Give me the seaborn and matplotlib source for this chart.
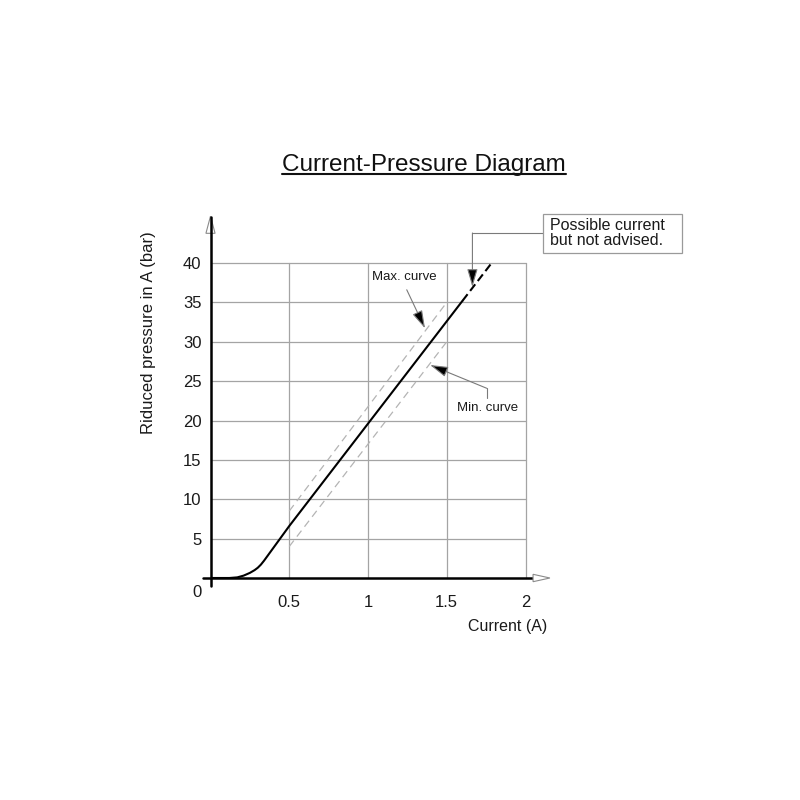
import matplotlib
matplotlib.use("Agg")
import matplotlib.pyplot as plt
from matplotlib.patches import Polygon, Rectangle
from matplotlib.lines import Line2D
import seaborn as sns

# Nominal characteristic (solid part, recommended range)
current_a = [0.0, 0.12, 0.17, 0.21, 0.25, 0.28, 0.30, 0.32, 0.34, 0.36, 0.38, 0.5, 1.0, 1.6]
pressure_bar = [0.0, 0.0, 0.08, 0.3, 0.65, 1.0, 1.3, 1.7, 2.2, 2.75, 3.3, 6.6, 19.6, 35.2]

# Extension: possible but not advised
current_ext = [1.6, 1.785]
pressure_ext = [35.2, 40.0]

# Tolerance band
max_current = [0.5, 1.5]
max_pressure = [8.5, 35.0]
min_current = [0.5, 1.5]
min_pressure = [4.0, 30.0]

x_ticks = [0.5, 1.0, 1.5, 2.0]
x_tick_labels = ["0.5", "1", "1.5", "2"]
y_ticks = [5, 10, 15, 20, 25, 30, 35, 40]
y_tick_labels = ["5", "10", "15", "20", "25", "30", "35", "40"]

sns.set_theme(style="white")
plt.rcParams["font.family"] = ["Liberation Sans", "DejaVu Sans"]

W = H = 800
fig = plt.figure(figsize=(8, 8), dpi=100)
# plot area: x 0..2 A, y 0..40 bar
x0_px, x1_px, y0_px, y1_px = 210.5, 525.5, 578.0, 263.0
ax = fig.add_axes([x0_px / W, 1 - y0_px / H, (x1_px - x0_px) / W, (y0_px - y1_px) / H])
ax.set_xlim(0, 2)
ax.set_ylim(0, 40)
for s in ax.spines.values():
    s.set_visible(False)

grid_col = "#a4a4a4"
ax.set_xticks(x_ticks, x_tick_labels)
ax.set_yticks(y_ticks, y_tick_labels)
ax.grid(True, color=grid_col, lw=0.9)
for gl in ax.get_xgridlines() + ax.get_ygridlines():
    gl.set_clip_on(False)
ax.tick_params(axis="both", length=0, labelsize=12, colors="#1a1a1a")
ax.tick_params(axis="x", pad=12)
ax.tick_params(axis="y", pad=6.5)

# tolerance curves
band_col = "#b4b4b4"
sns.lineplot(x=max_current, y=max_pressure, ax=ax, color=band_col, lw=0.9,
             linestyle=(0, (6, 4)), estimator=None, sort=False)
sns.lineplot(x=min_current, y=min_pressure, ax=ax, color=band_col, lw=0.9,
             linestyle=(0, (6, 4)), estimator=None, sort=False)

# nominal curve
sns.lineplot(x=current_a, y=pressure_bar, ax=ax, color="black", lw=1.5,
             estimator=None, sort=False, zorder=5)
sns.lineplot(x=current_ext, y=pressure_ext, ax=ax, color="black", lw=1.5,
             linestyle=(0, (4, 2)), estimator=None, sort=False, zorder=5)

# coordinate axes with open arrowheads
ax_col = "black"
ax.add_line(Line2D([-0.045, 2.048], [0, 0], color=ax_col, lw=1.8, clip_on=False, zorder=6))
ax.add_patch(Polygon([[2.048, -0.47], [2.048, 0.47], [2.155, 0]], closed=True,
                     fc="white", ec="#8a8a8a", lw=0.8, clip_on=False, zorder=6))
ax.add_patch(Polygon([[-0.029, 43.77], [0.029, 43.77], [0, 45.95]], closed=True,
                     fc="white", ec="#8a8a8a", lw=0.8, clip_on=False, zorder=6))
ax.add_line(Line2D([0, 0], [-1.0, 45.8], color=ax_col, lw=1.8, clip_on=False, zorder=7))

ax.text(-0.087, -1.9, "0", fontsize=12, color="#1a1a1a", ha="center", va="center")

# axis labels
ax.set_xlabel("Current (A)", fontsize=11.5, color="#1a1a1a")
ax.xaxis.set_label_coords(2.135 / 2, -6.1 / 40)
ax.xaxis.label.set_ha("right")
ax.xaxis.label.set_va("center")
ax.set_ylabel("Riduced pressure in A (bar)", fontsize=12, color="#1a1a1a")
ax.yaxis.set_label_coords((148 - x0_px) / (x1_px - x0_px), (y0_px - 332.5) / (y0_px - y1_px))
ax.yaxis.label.set_va("center")
ax.yaxis.label.set_ha("center")

# callouts
lead_col = "#7a7a7a"
head = dict(arrowstyle="-|>,head_length=1.1,head_width=0.32", fc="black", ec=lead_col,
            lw=0.8, shrinkA=0, shrinkB=0, mutation_scale=10)

ax.text(1.232, 38.2, "Max. curve", fontsize=9.5, ha="center", va="center", color="#1a1a1a")
ax.annotate("", xy=(1.362, 31.7), xytext=(1.246, 36.6), arrowprops=head, annotation_clip=False)

ax.text(1.756, 21.55, "Min. curve", fontsize=9.5, ha="center", va="center", color="#1a1a1a")
ax.add_line(Line2D([1.754, 1.754], [22.86, 24.09], color=lead_col, lw=0.8, clip_on=False))
ax.annotate("", xy=(1.394, 27.05), xytext=(1.754, 24.09), arrowprops=head, annotation_clip=False)

ax.add_patch(Rectangle((2.109, 41.27), 0.885, 4.93, fc="white", ec="#9a9a9a", lw=0.9,
                       clip_on=False, zorder=4))
ax.text(2.156, 43.83, "Possible current\nbut not advised.", fontsize=11.5, ha="left",
        va="center", linespacing=0.98, color="#1a1a1a", zorder=5)
ax.add_line(Line2D([2.109, 1.663], [43.81, 43.81], color=lead_col, lw=0.8, clip_on=False))
ax.annotate("", xy=(1.663, 36.95), xytext=(1.663, 43.81), arrowprops=head, annotation_clip=False)

# underlined title
title = fig.text(424.2 / W, 1 - 170.7 / H, "Current-Pressure Diagram", fontsize=17.5,
                 ha="center", va="baseline", color="#111111")
fig.canvas.draw()
bb = title.get_window_extent()
uy = (H - 173.8) / H
fig.add_artist(Line2D([bb.x0 / W, bb.x1 / W], [uy, uy], color="#111111", lw=1.5,
                      transform=fig.transFigure))

fig.savefig("out.png", dpi=100, facecolor="white")
